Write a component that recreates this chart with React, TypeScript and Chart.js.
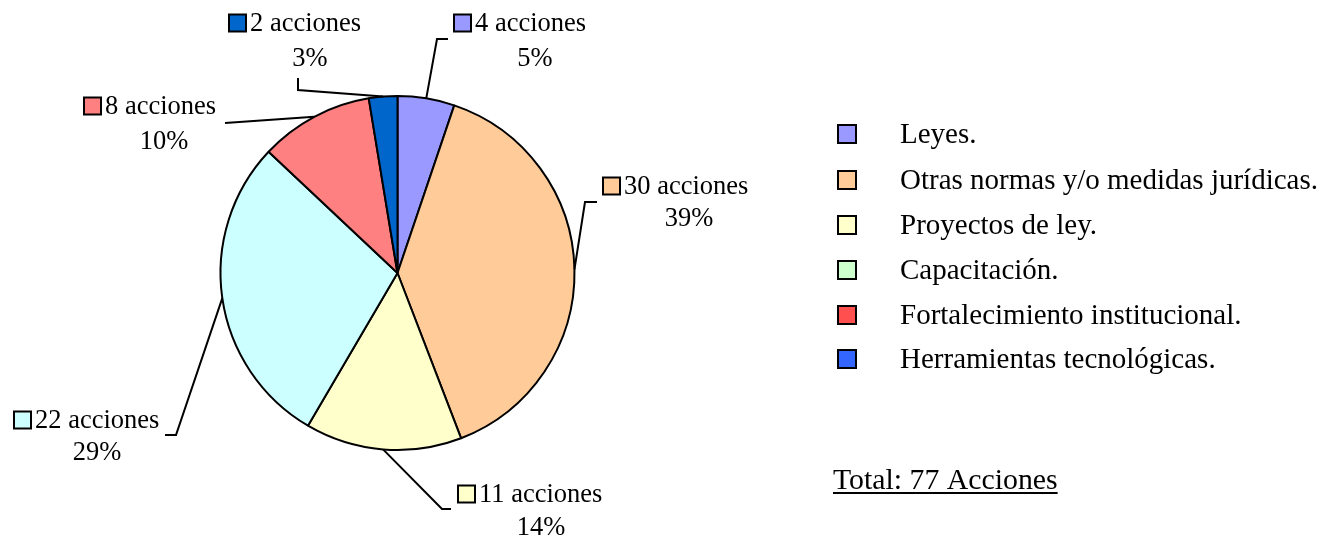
import { useEffect, useRef } from 'react';
import { Chart, registerables } from 'chart.js';

Chart.register(...registerables);

const categories = [
  'Leyes.',
  'Otras normas y/o medidas jurídicas.',
  'Proyectos de ley.',
  'Capacitación.',
  'Fortalecimiento institucional.',
  'Herramientas tecnológicas.',
];
const actionCounts = [4, 30, 11, 22, 8, 2];
const actionLabels = ['4 acciones', '30 acciones', '11 acciones', '22 acciones', '8 acciones', '2 acciones'];
const percentLabels = ['5%', '39%', '14%', '29%', '10%', '3%'];
const sliceColors = ['#9999FF', '#FFCC99', '#FFFFCC', '#CCFFFF', '#FF8080', '#0066CC'];
const legendColors = ['#9999FF', '#FFCC99', '#FFFFCC', '#CCFFCC', '#FF4F4F', '#3366FF'];
const totalLabel = 'Total: 77 Acciones';

// layout of the data labels (square left x, first line y, percent center x, second line y, leader elbows)
const labelLayout = [
  { sqX: 454, y1: 23, pctX: 535, y2: 58, leader: [[437, 39], [448, 39]] },
  { sqX: 603, y1: 186, pctX: 689, y2: 218, leader: [[585, 202], [597, 202]] },
  { sqX: 458, y1: 494, pctX: 541, y2: 527, leader: [[442, 509], [451, 509]] },
  { sqX: 14, y1: 420, pctX: 97, y2: 452, leader: [[176, 435], [165, 435]] },
  { sqX: 84, y1: 106, pctX: 164, y2: 141, leader: [[225, 123]] },
  { sqX: 229, y1: 23, pctX: 310, y2: 58, leader: [[298, 90], [298, 78]] },
];
const legendRowsY = [134, 180, 225, 270, 315, 359];

const FONT = '"Liberation Serif", "Times New Roman", serif';

export default function App() {
  const ref = useRef<HTMLCanvasElement | null>(null);

  useEffect(() => {
    const canvas = ref.current;
    if (!canvas) return;

    const labelsPlugin = {
      id: 'customLabels',
      afterDraw(chart: any) {
        const ctx = chart.ctx as CanvasRenderingContext2D;
        const meta = chart.getDatasetMeta(0);
        ctx.save();
        meta.data.forEach((arc: any, i: number) => {
          const p = arc.getProps(['x', 'y', 'startAngle', 'endAngle', 'outerRadius'], true);
          const mid = (p.startAngle + p.endAngle) / 2;
          const sx = p.x + Math.cos(mid) * p.outerRadius;
          const sy = p.y + Math.sin(mid) * p.outerRadius;
          const lay = labelLayout[i];
          ctx.strokeStyle = '#000';
          ctx.lineWidth = 2;
          ctx.beginPath();
          ctx.moveTo(sx, sy);
          lay.leader.forEach(([lx, ly]) => ctx.lineTo(lx, ly));
          ctx.stroke();

          ctx.fillStyle = sliceColors[i];
          ctx.fillRect(lay.sqX, lay.y1 - 8.5, 17, 17);
          ctx.lineWidth = 2;
          ctx.strokeRect(lay.sqX, lay.y1 - 8.5, 17, 17);

          ctx.fillStyle = '#000';
          ctx.font = `26.5px ${FONT}`;
          ctx.textBaseline = 'middle';
          ctx.textAlign = 'left';
          ctx.fillText(actionLabels[i], lay.sqX + 21, lay.y1 + 1);
          ctx.textAlign = 'center';
          ctx.fillText(percentLabels[i], lay.pctX, lay.y2 + 1);
        });

        categories.forEach((c, i) => {
          const y = legendRowsY[i];
          ctx.fillStyle = legendColors[i];
          ctx.fillRect(838, y - 9, 18, 18);
          ctx.strokeStyle = '#000';
          ctx.lineWidth = 2;
          ctx.strokeRect(838, y - 9, 18, 18);
          ctx.fillStyle = '#000';
          ctx.font = `29px ${FONT}`;
          ctx.textAlign = 'left';
          ctx.textBaseline = 'middle';
          ctx.fillText(c, 900, y + 1);
        });

        ctx.font = `29.8px ${FONT}`;
        ctx.textAlign = 'left';
        ctx.textBaseline = 'alphabetic';
        ctx.fillText(totalLabel, 833, 489);
        const w = ctx.measureText(totalLabel).width;
        ctx.beginPath();
        ctx.lineWidth = 2;
        ctx.moveTo(833, 493);
        ctx.lineTo(833 + w, 493);
        ctx.stroke();
        ctx.restore();
      },
    };

    const chart = new Chart(canvas, {
      type: 'pie',
      data: {
        labels: categories,
        datasets: [
          {
            data: actionCounts,
            backgroundColor: sliceColors,
            borderColor: '#000000',
            borderWidth: 2,
            borderAlign: 'center',
          },
        ],
      },
      options: {
        responsive: false,
        animation: false,
        layout: { padding: { left: 219, top: 95, right: 748, bottom: 86 } },
        plugins: {
          legend: { display: false },
          tooltip: { enabled: false },
        },
      },
      plugins: [labelsPlugin],
    });
    return () => chart.destroy();
  }, []);

  return (
    <div style={{ position: 'fixed', left: 0, top: 0, width: 1324, height: 537, background: '#fff' }}>
      <canvas ref={ref} width={1324} height={537} style={{ display: 'block' }} />
    </div>
  );
}
